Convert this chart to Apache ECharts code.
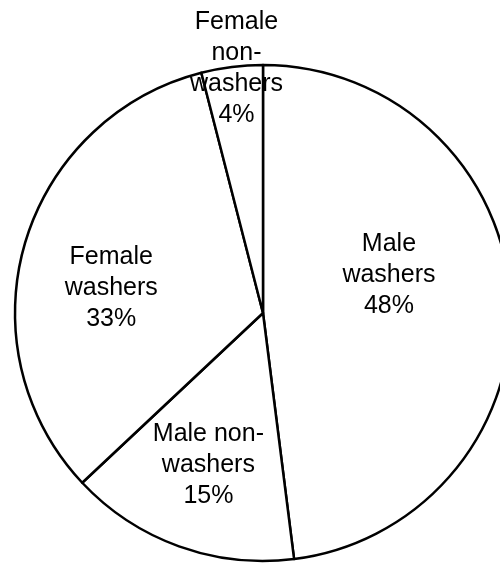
<!DOCTYPE html>
<html>
<head>
<meta charset="utf-8">
<script src="https://cdn.jsdelivr.net/npm/echarts@6/dist/echarts.min.js"></script>
<style>
html,body{margin:0;padding:0;background:#fff;}
#chart{width:500px;height:563px;}
</style>
</head>
<body>
<div id="chart"></div>
<script>
// Data
var categories = ['Male\nwashers', 'Male non-\nwashers', 'Female\nwashers', 'Female\nnon-\nwashers'];
var values = [48, 15, 33, 4];

// Label placement (polar: angle shift in degrees from slice mid-angle, radial fraction)
var labelAngleShift = [-13, 0, -7, 1];
var labelRadiusFrac = [0.53, 0.65, 0.62, 0.99];

var CX = 263, CY = 313, R = 248;

var total = values.reduce(function(a, b){ return a + b; }, 0);
var midAngles = [];
(function(){
  var acc = 0;
  for (var i = 0; i < values.length; i++) {
    midAngles.push((acc + values[i] / 2) / total * 360);
    acc += values[i];
  }
})();

var chart = echarts.init(document.getElementById('chart'), null, {renderer: 'canvas'});
chart.setOption({
  animation: false,
  backgroundColor: '#ffffff',
  series: [{
    type: 'pie',
    center: [CX, CY],
    radius: R,
    startAngle: 90,
    clockwise: true,
    avoidLabelOverlap: false,
    silent: true,
    itemStyle: {color: '#ffffff', borderColor: '#000000', borderWidth: 2.5},
    label: {
      show: true,
      position: 'inside',
      formatter: '{b}\n{d}%',
      color: '#000000',
      fontFamily: 'Liberation Sans, Arial, sans-serif',
      fontSize: 25,
      lineHeight: 31,
      align: 'center'
    },
    labelLine: {show: false},
    emphasis: {disabled: true},
    labelLayout: function (params) {
      var i = params.dataIndex;
      var th = (midAngles[i] + labelAngleShift[i]) * Math.PI / 180;
      var r = R * labelRadiusFrac[i];
      return {
        x: CX + r * Math.sin(th),
        y: CY - r * Math.cos(th),
        align: 'center',
        verticalAlign: 'middle'
      };
    },
    data: categories.map(function (c, i) { return {name: c, value: values[i]}; })
  }]
});
</script>
</body>
</html>
